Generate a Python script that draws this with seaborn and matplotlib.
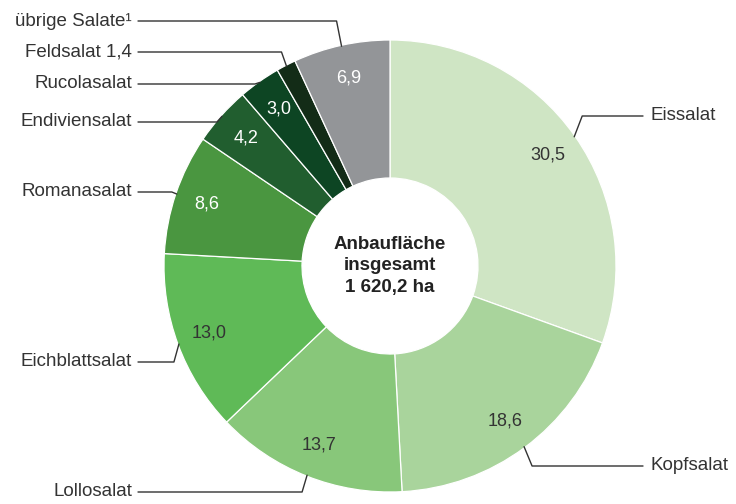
import numpy as np
import seaborn as sns
import matplotlib.pyplot as plt

# Anbaufläche Salate, Anteile in %
sorten = ["Eissalat", "Kopfsalat", "Lollosalat", "Eichblattsalat", "Romanasalat",
          "Endiviensalat", "Rucolasalat", "Feldsalat", "übrige Salate¹"]
anteile = [30.5, 18.6, 13.7, 13.0, 8.6, 4.2, 3.0, 1.4, 6.9]
wert_labels = ["30,5", "18,6", "13,7", "13,0", "8,6", "4,2", "3,0", "", "6,9"]
namen_labels = ["Eissalat", "Kopfsalat", "Lollosalat", "Eichblattsalat", "Romanasalat",
                "Endiviensalat", "Rucolasalat", "Feldsalat 1,4", "übrige Salate¹"]
farben = ["#cfe5c4", "#a9d49c", "#88c77a", "#5fba57", "#4a9640",
          "#215e2f", "#0d4523", "#132c17", "#939598"]
wert_farben = ["#333333", "#333333", "#333333", "#333333", "white",
               "white", "white", "white", "white"]
mitte_text = "Anbaufläche\ninsgesamt\n1 620,2 ha"

sns.set_theme(style="white")
plt.rcParams["font.family"] = ["Liberation Sans", "DejaVu Sans"]

W, H = 736, 504
fig = plt.figure(figsize=(W / 100, H / 100), dpi=100)
ax = fig.add_axes([0, 0, 1, 1])

# layout in pixel coordinates
cx, cy = 390, H - 266
r_out, r_in = 226, 88

wedges, texts = ax.pie(anteile, colors=farben, startangle=90, counterclock=False,
                       center=(cx, cy), radius=r_out, labels=wert_labels,
                       labeldistance=193 / r_out, frame=True,
                       wedgeprops=dict(width=r_out - r_in, edgecolor="white", linewidth=0.9),
                       textprops=dict(fontsize=13, ha="center", va="center"))
ax.set_xlim(0, W)
ax.set_ylim(0, H)
ax.set_aspect("equal")
ax.axis("off")
for t, c in zip(texts, wert_farben):
    t.set_color(c)
    t.set_horizontalalignment("center")

# leader lines and category labels
label_y = [116, 466, 492, 362, 192, 122, 84, 52, 21]
for w, name, ly in zip(wedges, namen_labels, label_y):
    t = np.radians((w.theta1 + w.theta2) / 2)
    ly = H - ly
    axx = cx + (r_out - 1) * np.cos(t)
    ayy = cy + (r_out - 1) * np.sin(t)
    if axx > cx:
        ex = axx + 8
        ax.plot([axx, ex, 643], [ayy, ly, ly], color="#333333", lw=1.0)
        ax.text(651, ly, name, ha="left", va="center", fontsize=13.5, color="#333333")
    else:
        ex = axx - 5
        ax.plot([axx, ex, 138], [ayy, ly, ly], color="#333333", lw=1.0)
        ax.text(132, ly, name, ha="right", va="center", fontsize=13.5, color="#333333")

ax.text(cx, cy, mitte_text, ha="center", va="center", fontsize=13.5,
        fontweight="bold", color="#222222", linespacing=1.38)

fig.savefig("out.png", dpi=100)
